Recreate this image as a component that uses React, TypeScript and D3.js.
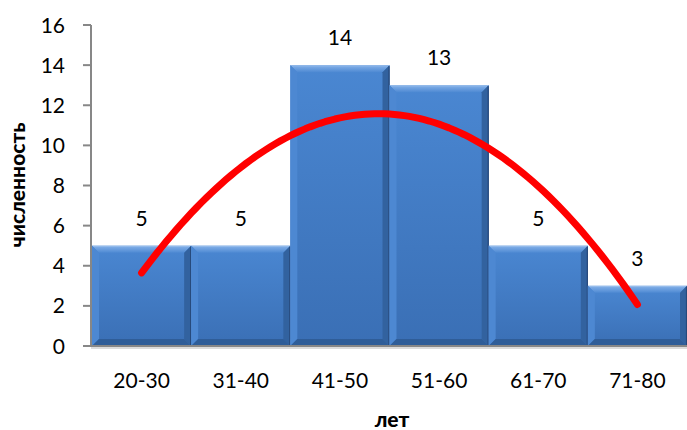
import React from "react";
import * as d3 from "d3";

// Age groups and number of people in each
const categories = ["20-30", "31-40", "41-50", "51-60", "61-70", "71-80"];
const counts = [5, 5, 14, 13, 5, 3];
const yTicks = [0, 2, 4, 6, 8, 10, 12, 14, 16];

const W = 687;
const H = 430;
const axisX = 91;
const plotTop = 25;
const plotBottom = 346;
const plotLeft = 92;
const plotRight = 687;
const FONT = "Lato, 'Open Sans', sans-serif";

// Second-order polynomial trend fitted by least squares over x = 1..n
function quadFit(ys: number[]) {
  const n = ys.length;
  const xs = ys.map((_, i) => i + 1);
  const mean = d3.mean(xs) as number;
  const t = xs.map((x) => x - mean);
  const s2 = d3.sum(t, (v) => v * v);
  const s4 = d3.sum(t, (v) => v ** 4);
  const sy = d3.sum(ys);
  const syt = d3.sum(ys, (y, i) => y * t[i]);
  const syt2 = d3.sum(ys, (y, i) => y * t[i] * t[i]);
  const b = syt / s2;
  const c = (syt2 - (s2 * sy) / n) / (s4 - (s2 * s2) / n);
  const a = (sy - c * s2) / n;
  return (x: number) => {
    const u = x - mean;
    return a + b * u + c * u * u;
  };
}

export default function App() {
  const x = d3.scaleBand<string>().domain(categories).range([plotLeft, plotRight]).padding(0);
  const y = d3.scaleLinear().domain([0, 16]).range([plotBottom, plotTop]);
  const bw = x.bandwidth();
  const trend = quadFit(counts);

  const xPos = d3.scaleLinear().domain([1, categories.length]).range([
    (x(categories[0]) as number) + bw / 2,
    (x(categories[categories.length - 1]) as number) + bw / 2,
  ]);
  const samples = d3.range(1, categories.length + 0.0001, 0.05);
  const line = d3
    .line<number>()
    .x((v) => xPos(v))
    .y((v) => y(trend(v)))
    .curve(d3.curveLinear);

  const bev = 7;

  return (
    <svg width={W} height={H} style={{ position: "absolute", left: 0, top: 0 }}>
      <defs>
        <linearGradient id="face" x1="0" y1="0" x2="0" y2="1">
          <stop offset="0" stopColor="#4a87d2" />
          <stop offset="1" stopColor="#3a6fb5" />
        </linearGradient>
        <linearGradient id="topBev" x1="0" y1="0" x2="0" y2="1">
          <stop offset="0" stopColor="#a7c8f0" />
          <stop offset="0.25" stopColor="#78a8e4" />
          <stop offset="1" stopColor="#4f8ad3" />
        </linearGradient>
      </defs>
      <rect width={W} height={H} fill="#fff" />

      {/* bars with bevelled edges */}
      {counts.map((v, i) => {
        const x0 = x(categories[i]) as number;
        const x1 = x0 + bw;
        const y0 = y(v);
        const y1 = plotBottom;
        return (
          <g key={categories[i]}>
            <rect x={x0} y={y0} width={bw} height={y1 - y0} fill="url(#face)" />
            <polygon
              points={`${x0},${y0} ${x1},${y0} ${x1 - bev},${y0 + bev} ${x0 + bev},${y0 + bev}`}
              fill="url(#topBev)"
            />
            <polygon
              points={`${x0},${y0} ${x0 + bev},${y0 + bev} ${x0 + bev},${y1 - bev} ${x0},${y1}`}
              fill="#4d88d2"
            />
            <polygon
              points={`${x1},${y0} ${x1},${y1} ${x1 - bev},${y1 - bev} ${x1 - bev},${y0 + bev}`}
              fill="#32629f"
            />
            <polygon
              points={`${x0},${y1} ${x0 + bev},${y1 - bev} ${x1 - bev},${y1 - bev} ${x1},${y1}`}
              fill="#2f5d98"
            />
            <line x1={x1 - 0.5} x2={x1 - 0.5} y1={y0 + 1} y2={y1} stroke="#27497a" strokeWidth={1.2} />
            <text
              x={x0 + bw / 2}
              y={y0 - 20}
              textAnchor="middle"
              fontFamily={FONT}
              fontSize={21}
              fill="#000"
            >
              {v}
            </text>
          </g>
        );
      })}

      {/* y axis */}
      <line x1={axisX} x2={axisX} y1={plotTop} y2={plotBottom} stroke="#878787" strokeWidth={2} />
      {yTicks.map((t) => (
        <g key={t}>
          <line x1={83} x2={axisX} y1={y(t)} y2={y(t)} stroke="#878787" strokeWidth={2} />
          <text
            x={65}
            y={y(t) + 7.5}
            textAnchor="end"
            fontFamily={FONT}
            fontSize={21}
            fill="#000"
          >
            {t}
          </text>
        </g>
      ))}

      {/* x axis */}
      <line x1={83} x2={plotRight} y1={plotBottom} y2={plotBottom} stroke="#878787" strokeWidth={2} />
      <line x1={axisX} x2={plotRight} y1={plotBottom + 2} y2={plotBottom + 2} stroke="#d0d0d0" strokeWidth={1.5} />
      {categories.map((c) => (
        <text
          key={c}
          x={(x(c) as number) + bw / 2}
          y={388}
          textAnchor="middle"
          fontFamily={FONT}
          fontSize={21}
          fill="#000"
        >
          {c}
        </text>
      ))}

      {/* trend line */}
      <path
        d={line(samples) as string}
        fill="none"
        stroke="#ff0000"
        strokeWidth={7}
        strokeLinecap="round"
        strokeLinejoin="round"
      />

      {/* axis titles */}
      <text
        transform={`translate(25,185) rotate(-90)`}
        textAnchor="middle"
        fontFamily={FONT}
        fontWeight="900"
        fontSize={21}
        fill="#000"
      >
        численность
      </text>
      <text
        x={392}
        y={427}
        textAnchor="middle"
        fontFamily={FONT}
        fontWeight="900"
        fontSize={21}
        fill="#000"
      >
        лет
      </text>
    </svg>
  );
}
